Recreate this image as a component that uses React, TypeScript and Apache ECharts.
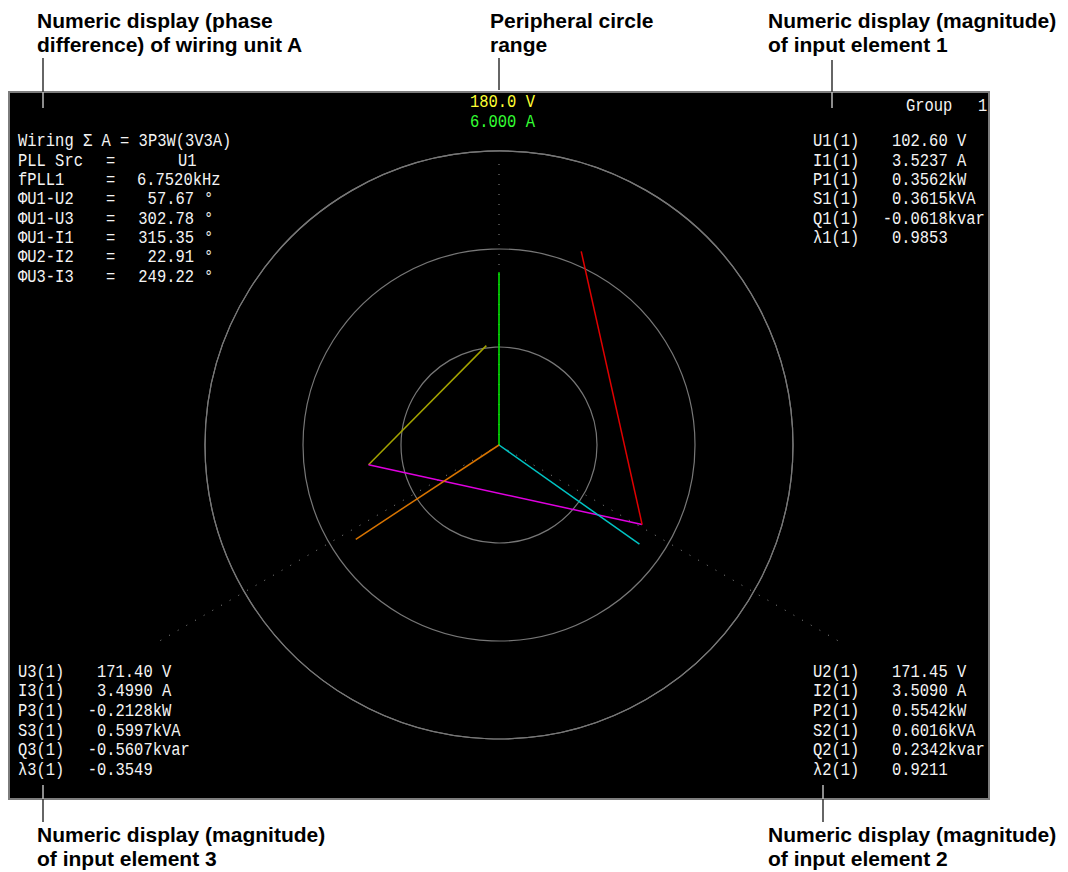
import React, { useEffect, useRef } from "react";
import * as echarts from "echarts";

// ---- ranges of the peripheral circle ----
const V_RANGE = 180.0;
const I_RANGE = 6.0;
const RANGE_TEXTS = ["180.0 V", "6.000 A"];

// ---- measured values per input element (1, 2, 3) ----
const elementNames = ["1", "2", "3"];
const voltages = [102.6, 171.45, 171.4];
const currents = [3.5237, 3.509, 3.499];
const activePower = [0.3562, 0.5542, -0.2128];
const apparentPower = [0.3615, 0.6016, 0.5997];
const reactivePower = [-0.0618, 0.2342, -0.5607];
const powerFactor = [0.9853, 0.9211, -0.3549];

// ---- wiring unit A ----
const wiringLabel = "Wiring Σ A";
const wiringValue = "3P3W(3V3A)";
const pllSrcLabel = "PLL Src";
const pllSrcValue = "U1";
const fPllLabel = "fPLL1";
const fPllValue = "6.7520kHz";
const phaseLabels = ["ΦU1-U2", "ΦU1-U3", "ΦU1-I1", "ΦU2-I2", "ΦU3-I3"];
const phaseValues = [57.67, 302.78, 315.35, 22.91, 249.22];
const groupLabel = "Group";
const groupNumber = "1";

// ---- captions ----
const captionTexts = [
  ["Numeric display (phase", "difference) of wiring unit A"],
  ["Peripheral circle", "range"],
  ["Numeric display (magnitude)", "of input element 1"],
  ["Numeric display (magnitude)", "of input element 3"],
  ["Numeric display (magnitude)", "of input element 2"],
];

// ---- styles ----
const voltageColors = ["#a4a400", "#e000e0", "#e00000"];
const currentColors = ["#00f000", "#00c4c4", "#d87400"];
const ringColor = "#777777";
const guideColor = "#8a8a8a";
const MONO = '"Liberation Mono", "DejaVu Sans Mono", monospace';
const MONO_SIZE = 18;
const MONO_SCALE = 0.86;
const PITCH = MONO_SIZE * 0.6 * MONO_SCALE;

// guide (dotted) rays: angle and extent in range units
const GUIDE_MAX = 243;
const guideAngles = [0, 120, 240];
const guideExtents = [174, 243, 243];

// ---- vector geometry from the phase data ----
const rad = (d: number) => (d * Math.PI) / 180;
const vec = (m: number, a: number) => [m * Math.sin(rad(a)), m * Math.cos(rad(a))];
const add = (p: number[], q: number[]) => [p[0] + q[0], p[1] + q[1]];
const toPolar = (p: number[]) => [
  Math.hypot(p[0], p[1]),
  ((Math.atan2(p[0], p[1]) * 180) / Math.PI + 360) % 360,
];

const [phU1U2, phU1U3, phU1I1, phU2I2, phU3I3] = phaseValues;
const angU1 = (360 - phU1I1) % 360; // I1 points straight up
const angU = [angU1, (angU1 + phU1U2) % 360, (angU1 + phU1U3) % 360];
const angI = [0, (angU[1] + phU2I2) % 360, (angU[2] + phU3I3) % 360];
const Uv = voltages.map((m, i) => vec(m, angU[i]));
const A0 = [-(Uv[0][0] + Uv[1][0]) / 3, -(Uv[0][1] + Uv[1][1]) / 3];
const B0 = add(A0, Uv[0]);
const C0 = add(A0, Uv[1]);
const D0 = add(C0, Uv[2]);

const voltageSegments = [
  [toPolar(A0), toPolar(B0)],
  [toPolar(A0), toPolar(C0)],
  [toPolar(C0), toPolar(D0)],
];
const currentSegments = currents.map((m, i) => [
  [0, angI[i]],
  [(m * V_RANGE) / I_RANGE, angI[i]],
]);

function monoText(x: number, y: number, text: string, fill = "#f4f4f4", align = "left") {
  return {
    type: "text",
    x,
    y,
    scaleX: MONO_SCALE,
    z: 50,
    silent: true,
    style: {
      text,
      fill,
      fontFamily: MONO,
      fontSize: MONO_SIZE,
      textAlign: align,
      textVerticalAlign: "middle",
    },
  };
}

function captionText(x: number, y: number, text: string) {
  return {
    type: "text",
    x,
    y,
    z: 50,
    silent: true,
    style: {
      text,
      fill: "#000",
      fontFamily: '"Liberation Sans", Arial, sans-serif',
      fontWeight: "bold",
      fontSize: 21,
      textVerticalAlign: "middle",
    },
  };
}

function leader(x: number, y1: number, y2: number, color: string) {
  return {
    type: "line",
    z: 40,
    silent: true,
    shape: { x1: x, y1, x2: x, y2 },
    style: { stroke: color, lineWidth: 1.5 },
  };
}

function buildGraphics() {
  const g: any[] = [];
  g.push({
    type: "rect",
    z: -10,
    silent: true,
    shape: { x: 9, y: 92, width: 980, height: 707 },
    style: { fill: "#000", stroke: "#7d7d7d", lineWidth: 2 },
  });

  // wiring unit panel (upper left)
  const rowY = (k: number) => 141.5 + 19.35 * k;
  g.push(monoText(18, rowY(0), `${wiringLabel} = ${wiringValue}`));
  g.push(monoText(18, rowY(1), pllSrcLabel));
  g.push(monoText(106, rowY(1), "="));
  g.push(monoText(178, rowY(1), pllSrcValue));
  g.push(monoText(18, rowY(2), fPllLabel));
  g.push(monoText(106, rowY(2), "="));
  g.push(monoText(137, rowY(2), fPllValue));
  phaseLabels.forEach((lab, i) => {
    g.push(monoText(18, rowY(3 + i), lab));
    g.push(monoText(106, rowY(3 + i), "="));
    g.push(monoText(194, rowY(3 + i), phaseValues[i].toFixed(2), "#f4f4f4", "right"));
    g.push(monoText(204, rowY(3 + i), "°"));
  });

  // group
  g.push(monoText(906, 106, groupLabel));
  g.push(monoText(978, 106, groupNumber));

  // range texts
  g.push(monoText(470, 102, RANGE_TEXTS[0], "#ffff33"));
  g.push(monoText(470, 122, RANGE_TEXTS[1], "#33ff33"));

  // element panels
  const panels = [
    { el: 0, lx: 813, vx: 892, y0: 141.5, dy: 19.35 },
    { el: 1, lx: 813, vx: 892, y0: 672, dy: 19.6 },
    { el: 2, lx: 18, vx: 97, y0: 672, dy: 19.6 },
  ];
  panels.forEach(({ el, lx, vx, y0, dy }) => {
    const n = elementNames[el];
    const labels = [`U${n}(1)`, `I${n}(1)`, `P${n}(1)`, `S${n}(1)`, `Q${n}(1)`, `λ${n}(1)`];
    const values = [
      `${voltages[el].toFixed(2)} V`,
      `${currents[el].toFixed(4)} A`,
      `${activePower[el].toFixed(4)}kW`,
      `${apparentPower[el].toFixed(4)}kVA`,
      `${reactivePower[el].toFixed(4)}kvar`,
      `${powerFactor[el].toFixed(4)}`,
    ];
    labels.forEach((lab, k) => {
      const y = y0 + dy * k;
      g.push(monoText(lx, y, lab));
      const v = values[k];
      g.push(monoText(v.startsWith("-") ? vx - PITCH : vx, y, v));
    });
  });

  // captions
  const capPos = [
    [37, 20],
    [490, 20],
    [768, 20],
    [37, 834],
    [768, 834],
  ];
  captionTexts.forEach((lines, i) => {
    const [x, y] = capPos[i];
    lines.forEach((t, j) => g.push(captionText(x, y + j * 24.5, t)));
  });

  // leader lines
  g.push(leader(43, 58, 92, "#333"));
  g.push(leader(43, 92, 108, "#bbb"));
  g.push(leader(499, 58, 90, "#333"));
  g.push(leader(832, 60, 92, "#333"));
  g.push(leader(832, 92, 108, "#bbb"));
  g.push(leader(43, 785, 799, "#bbb"));
  g.push(leader(43, 799, 822, "#333"));
  g.push(leader(823, 785, 799, "#bbb"));
  g.push(leader(823, 799, 822, "#333"));
  return g;
}

const hiddenAngleAxis = (polarIndex: number, showLine: boolean) => ({
  type: "value",
  polarIndex,
  min: 0,
  max: 360,
  interval: 120,
  startAngle: 90,
  clockwise: true,
  axisLine: { show: showLine, lineStyle: { color: ringColor, width: 1.2 } },
  axisTick: { show: false },
  axisLabel: { show: false },
  splitLine: { show: false },
});

export default function App() {
  const ref = useRef<HTMLDivElement>(null);
  useEffect(() => {
    if (!ref.current) return;
    const chart = echarts.init(ref.current, undefined, { renderer: "svg" });
    const series: any[] = [];
    guideAngles.forEach((a, i) => {
      series.push({
        type: "line",
        coordinateSystem: "polar",
        polarIndex: 1,
        clip: false,
        silent: true,
        symbol: "none",
        z: 1,
        lineStyle: { color: guideColor, width: 1, type: [1, 9] },
        data: [
          [0, a],
          [guideExtents[i], a],
        ],
      });
    });
    voltageSegments.forEach((seg, i) => {
      series.push({
        name: `U${elementNames[i]}`,
        type: "line",
        coordinateSystem: "polar",
        polarIndex: 0,
        clip: false,
        silent: true,
        symbol: "none",
        z: 3,
        lineStyle: { color: voltageColors[i], width: 1.5 },
        data: seg,
      });
    });
    currentSegments.forEach((seg, i) => {
      series.push({
        name: `I${elementNames[i]}`,
        type: "line",
        coordinateSystem: "polar",
        polarIndex: 0,
        clip: false,
        silent: true,
        symbol: "none",
        z: 3,
        lineStyle: { color: currentColors[i], width: 1.5 },
        data: seg,
      });
    });

    const pxPerUnit = 294 / V_RANGE;
    chart.setOption({
      animation: false,
      backgroundColor: "#ffffff",
      polar: [
        { center: [499, 445], radius: 294 },
        { center: [499, 445], radius: GUIDE_MAX * pxPerUnit },
      ],
      angleAxis: [hiddenAngleAxis(0, true), hiddenAngleAxis(1, false)],
      radiusAxis: [
        {
          type: "value",
          polarIndex: 0,
          min: 0,
          max: V_RANGE,
          interval: V_RANGE / 3,
          axisLine: { show: false },
          axisTick: { show: false },
          axisLabel: { show: false },
          splitLine: { show: true, lineStyle: { color: ringColor, width: 1.2 } },
        },
        {
          type: "value",
          polarIndex: 1,
          min: 0,
          max: GUIDE_MAX,
          axisLine: { show: false },
          axisTick: { show: false },
          axisLabel: { show: false },
          splitLine: { show: false },
        },
      ],
      graphic: buildGraphics(),
      series,
    });
    return () => chart.dispose();
  }, []);
  return (
    <div
      ref={ref}
      style={{ position: "absolute", left: 0, top: 0, width: 1068, height: 872 }}
    />
  );
}
